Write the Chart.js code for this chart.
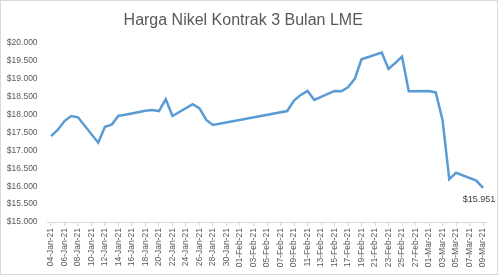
<!DOCTYPE html>
<html>
<head>
<meta charset="utf-8">
<script src="https://cdn.jsdelivr.net/npm/chart.js@4/dist/chart.umd.min.js"></script>
<style>
html,body{margin:0;padding:0;background:#fff;}
#wrap{width:498px;height:275px;position:relative;}
</style>
</head>
<body>
<div id="wrap"><canvas id="c" width="498" height="275"></canvas></div>
<script>
// Categories: every calendar day 04-Jan-21 .. 09-Mar-21
const dates = ["04-Jan-21","05-Jan-21","06-Jan-21","07-Jan-21","08-Jan-21","09-Jan-21","10-Jan-21","11-Jan-21","12-Jan-21","13-Jan-21","14-Jan-21","15-Jan-21","16-Jan-21","17-Jan-21","18-Jan-21","19-Jan-21","20-Jan-21","21-Jan-21","22-Jan-21","23-Jan-21","24-Jan-21","25-Jan-21","26-Jan-21","27-Jan-21","28-Jan-21","29-Jan-21","30-Jan-21","31-Jan-21","01-Feb-21","02-Feb-21","03-Feb-21","04-Feb-21","05-Feb-21","06-Feb-21","07-Feb-21","08-Feb-21","09-Feb-21","10-Feb-21","11-Feb-21","12-Feb-21","13-Feb-21","14-Feb-21","15-Feb-21","16-Feb-21","17-Feb-21","18-Feb-21","19-Feb-21","20-Feb-21","21-Feb-21","22-Feb-21","23-Feb-21","24-Feb-21","25-Feb-21","26-Feb-21","27-Feb-21","28-Feb-21","01-Mar-21","02-Mar-21","03-Mar-21","04-Mar-21","05-Mar-21","06-Mar-21","07-Mar-21","08-Mar-21","09-Mar-21"];

// Nickel 3-month price (USD/ton); null = no trading / no data
const prices = [17400,17570,17820,17960,17925,null,null,17215,17660,17720,17970,17995,null,null,18110,18130,18100,18430,17960,null,null,18290,18175,17850,17710,null,null,null,null,null,null,null,null,null,null,18100,18390,18550,18660,18410,null,null,18660,18650,18760,19000,19545,null,null,19730,19275,19440,19620,18650,null,null,18660,18620,17850,16195,16375,null,null,16155,15951];

const yTicks = [15000,15500,16000,16500,17000,17500,18000,18500,19000,19500,20000];
const lastLabel = "$15.951";

function fmt(v){ return "$" + v.toLocaleString("de-DE"); }

const labelPlugin = {
  id: "lastLabel",
  afterDatasetsDraw(chart){
    const meta = chart.getDatasetMeta(0);
    const p = meta.data[prices.length-1];
    const ctx = chart.ctx;
    ctx.save();
    ctx.font = "9px 'Liberation Sans'";
    ctx.fillStyle = "#404040";
    ctx.textAlign = "center";
    ctx.textBaseline = "middle";
    ctx.fillText(lastLabel, p.x - 4, p.y + 12);
    ctx.restore();
  },
  afterDraw(chart){
    const ctx = chart.ctx;
    ctx.save();
    ctx.strokeStyle = "#d9d9d9";
    ctx.lineWidth = 1;
    ctx.strokeRect(0.5,0.5,chart.width-1,chart.height-1);
    ctx.restore();
  }
};

new Chart(document.getElementById("c"), {
  type: "line",
  data: {
    labels: dates,
    datasets: [{
      data: prices,
      borderColor: "#5b9bd5",
      borderWidth: 2.5,
      pointRadius: 0,
      tension: 0,
      spanGaps: true,
      fill: false
    }]
  },
  options: {
    responsive: false,
    animation: false,
    layout: { padding: { left: 0, right: 11.6, top: 0, bottom: 0 } },
    plugins: {
      legend: { display: false },
      tooltip: { enabled: false },
      title: {
        display: true,
        text: "Harga Nikel Kontrak 3 Bulan LME",
        color: "#595959",
        font: { family: "'Liberation Sans'", size: 16, weight: "normal" },
        padding: { top: 11, bottom: 12.8 }
      }
    },
    scales: {
      x: {
        offset: true,
        grid: {
          display: true,
          drawOnChartArea: false,
          drawTicks: true,
          tickLength: 4,
          color: (c) => (c.index % 2 === 0 ? "#d9d9d9" : "rgba(0,0,0,0)")
        },
        border: { display: true, color: "#d9d9d9", width: 1 },
        ticks: {
          autoSkip: false,
          maxRotation: 90,
          minRotation: 90,
          padding: 2,
          color: "#595959",
          font: { family: "'Liberation Sans'", size: 8.5 },
          callback: (v, i) => (i % 2 === 0 ? dates[i] : "")
        },
        afterFit: (s) => { s.height = 53; }
      },
      y: {
        min: 15000,
        max: 20000,
        afterBuildTicks: (s) => { s.ticks = yTicks.map(v => ({ value: v })); },
        grid: { display: false, drawTicks: false },
        border: { display: false },
        ticks: {
          padding: 10,
          color: "#595959",
          font: { family: "'Liberation Sans'", size: 8.5 },
          callback: (v) => fmt(v)
        },
        afterFit: (s) => { s.width = 47.6; }
      }
    }
  },
  plugins: [labelPlugin]
});
</script>
</body>
</html>
